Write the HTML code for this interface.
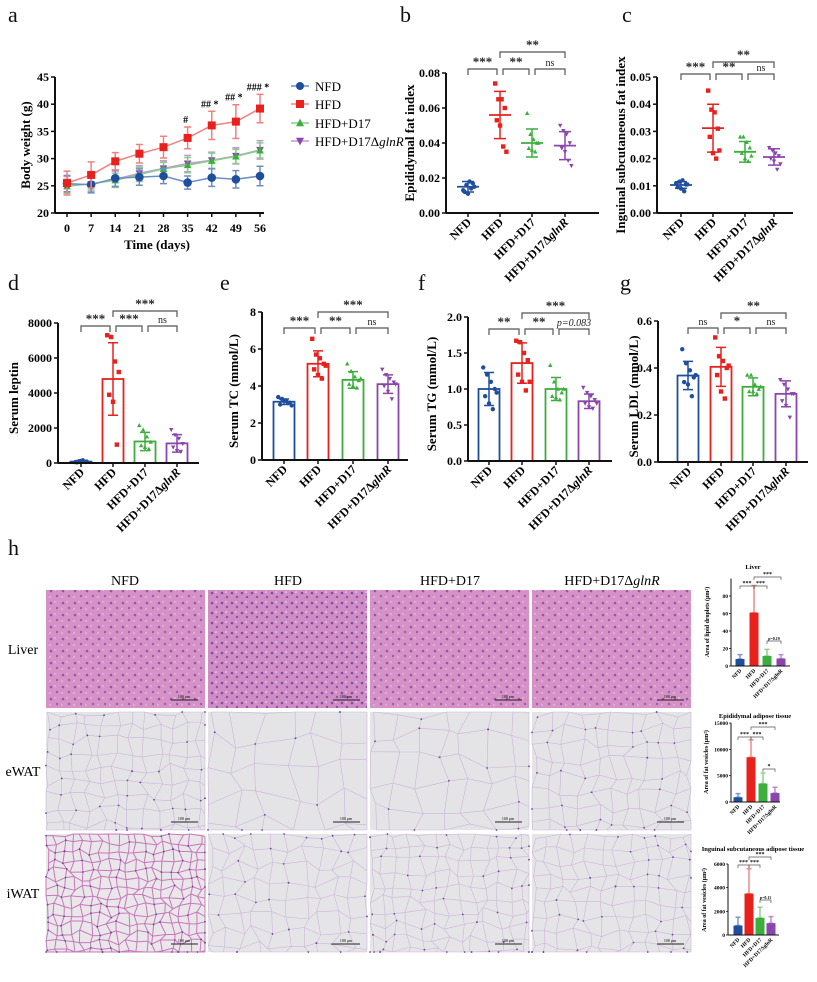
<!DOCTYPE html>
<html><head><meta charset="utf-8"><style>
html,body{margin:0;padding:0;background:#fff}
svg{display:block;font-family:"Liberation Serif",serif}
</style></head><body>
<svg id="fig" width="817" height="982" viewBox="0 0 817 982" xmlns="http://www.w3.org/2000/svg">
<defs>
<pattern id="liverPat" width="12" height="12" patternUnits="userSpaceOnUse">
<rect width="12" height="12" fill="#d692c6"/>
<circle cx="3" cy="3" r="1.3" fill="#8d5aab"/><circle cx="9" cy="8" r="1.2" fill="#9460b0"/>
<circle cx="7" cy="2" r="0.7" fill="#f2d6ea"/><circle cx="2" cy="9" r="0.7" fill="#f0d0e6"/>
</pattern>
<pattern id="liverPat2" width="10" height="10" patternUnits="userSpaceOnUse">
<rect width="10" height="10" fill="#d08cc4"/>
<circle cx="2" cy="3" r="1.3" fill="#7f4fa5"/><circle cx="7" cy="7" r="1.2" fill="#8a56aa"/>
<circle cx="6" cy="2" r="0.8" fill="#f4e0ee"/>
</pattern>
</defs>
<g id="root"></g>
</svg>
<script>
// ===== Panel a data =====
const days = [0,7,14,21,28,35,42,49,56];
const nfdWeight = [25.4,25.2,26.4,26.6,26.8,25.6,26.5,26.2,26.8];
const nfdWeightErr = [1.5,1.5,1.5,1.5,1.4,1.2,1.6,1.6,1.8];
const hfdWeight = [25.5,27.0,29.5,30.9,32.1,33.8,36.1,36.8,39.2];
const hfdWeightErr = [2.2,2.4,1.6,1.7,2.0,2.0,2.6,3.1,2.6];
const d17Weight = [24.9,25.4,26.0,27.1,28.1,28.8,29.6,30.4,31.5];
const d17WeightErr = [1.3,1.2,1.3,1.3,1.2,1.4,1.4,1.3,1.4];
const dglnWeight = [25.2,25.3,26.2,27.3,28.2,29.1,29.7,30.5,31.6];
const dglnWeightErr = [1.5,1.4,1.5,1.4,1.4,1.5,1.5,1.5,1.7];
const weightTicks = [20,25,30,35,40,45];
const weightMarks = ["","","","","","#","## *","## *","### *"];
const groups = ["NFD","HFD","HFD+D17","HFD+D17\u0394glnR"];
// ===== Panel b =====
const epiMean = [0.015,0.056,0.040,0.0385];
const epiSd = [0.003,0.0135,0.008,0.008];
const epiPts = [[0.013,0.016,0.018,0.017,0.012,0.011,0.014,0.015],[0.074,0.065,0.065,0.060,0.053,0.050,0.038,0.035],[0.057,0.045,0.042,0.040,0.037,0.036,0.035,0.040],[0.050,0.047,0.045,0.040,0.037,0.035,0.030,0.027]];
const epiTicks = [0,0.02,0.04,0.06,0.08];
// ===== Panel c =====
const ingMean = [0.0103,0.0312,0.0225,0.0206];
const ingSd = [0.0012,0.0088,0.0038,0.003];
const ingPts = [[0.011,0.0115,0.012,0.0105,0.0095,0.009,0.008,0.0105],[0.045,0.038,0.037,0.031,0.028,0.022,0.020,0.023],[0.028,0.028,0.026,0.024,0.022,0.020,0.019,0.021],[0.024,0.023,0.022,0.021,0.020,0.019,0.016,0.018]];
const ingTicks = [0,0.01,0.02,0.03,0.04,0.05];
// ===== Panel d =====
const leptinMean = [80,4800,1230,1120];
const leptinSd = [60,2070,520,500];
const leptinPts = [[50,100,150,80,40,120,60],[7300,7200,5800,5200,3900,3500,1050],[2150,1900,1500,1200,1000,900,800],[1900,1600,1400,1100,900,700,650]];
const leptinTicks = [0,2000,4000,6000,8000];
// ===== Panel e =====
const tcMean = [3.15,5.2,4.33,4.1];
const tcSd = [0.15,0.7,0.45,0.5];
const tcPts = [[3.4,3.3,3.2,3.1,3.0,3.2,3.1,2.95],[6.55,5.7,5.5,5.2,4.9,4.6,4.4,5.1],[5.2,4.8,4.5,4.3,4.1,4.0,3.9,4.4],[4.9,4.6,4.4,4.2,4.0,3.7,3.3,4.1]];
const tcTicks = [0,2,4,6,8];
// ===== Panel f =====
const tgMean = [1.0,1.36,1.0,0.83];
const tgSd = [0.23,0.28,0.16,0.1];
const tgPts = [[1.3,1.2,1.1,1.0,0.9,0.8,0.72,0.95],[1.67,1.65,1.5,1.4,1.2,1.1,0.98,1.1],[1.33,1.1,1.0,0.95,0.9,0.88,0.85,1.0],[1.02,0.95,0.9,0.85,0.8,0.75,0.73,0.8]];
const tgTicks = [0,0.5,1.0,1.5,2.0];
// ===== Panel g =====
const ldlMean = [0.368,0.405,0.32,0.29];
const ldlSd = [0.06,0.083,0.038,0.055];
const ldlPts = [[0.48,0.42,0.39,0.36,0.34,0.33,0.28,0.37],[0.53,0.45,0.43,0.40,0.37,0.30,0.27,0.41],[0.37,0.37,0.33,0.31,0.30,0.30,0.29,0.32],[0.35,0.33,0.31,0.29,0.26,0.24,0.19,0.29]];
const ldlTicks = [0,0.2,0.4,0.6];
// ===== Panel h charts =====
const liverArea = [8,61,11.5,8.5];
const liverErr = [5,31,7.5,4.5];
const liverTicks = [0,20,40,60,80];
const ewatArea = [900,8500,3500,1700];
const ewatErr = [700,3300,2000,1100];
const ewatTicks = [0,5000,10000,15000];
const iwatArea = [800,3500,1450,1000];
const iwatErr = [700,2100,900,550];
const iwatTicks = [0,2000,4000,6000];

const COLORS = ["#1f4e9c","#e8211d","#3cae3c","#8b45ad"];
const NS = "http://www.w3.org/2000/svg";
const root = document.getElementById('root');
function mk(tag, attrs, parent, text){
  const e = document.createElementNS(NS, tag);
  for (const k in attrs) e.setAttribute(k, attrs[k]);
  if (text !== undefined) e.textContent = text;
  (parent || root).appendChild(e);
  return e;
}
function lin(d0,d1,r0,r1){ return v => r0 + (v-d0)/(d1-d0)*(r1-r0); }
function fmt(v, dec){ return v.toFixed(dec); }

function panelLetter(ch, x, y){
  const t = mk('text',{x:x,y:y,'font-size':22,fill:'#111'},root,ch);
  
  
}

function yAxis(g, ax, y, ticks, dec, fs){
  const l = mk('line',{x1:ax,x2:ax,y1:y(ticks[ticks.length-1]),y2:y(ticks[0]),stroke:'#111','stroke-width':2},g);
  
  
  ticks.forEach(t=>{
    mk('line',{x1:ax-4,x2:ax,y1:y(t),y2:y(t),stroke:'#111','stroke-width':1.5},g);
    const tx = mk('text',{x:ax-6,y:y(t)+4,'text-anchor':'end','font-size':fs||12,'font-weight':'bold'},g,fmt(t,dec));
    
    
  });
}
function xAxisCats(g, x0, x1, y0, cx, fs){
  const l = mk('line',{x1:x0,x2:x1,y1:y0,y2:y0,stroke:'#111','stroke-width':2},g);
  
  
  groups.forEach((name,i)=>{
    mk('line',{x1:cx[i],x2:cx[i],y1:y0,y2:y0+4,stroke:'#111','stroke-width':1.5},g);
    const t = mk('text',{transform:`translate(${cx[i]+4},${y0+10}) rotate(-45)`,'text-anchor':'end','font-size':fs||12,'font-weight':'bold'},g);
    
    
    if (name.indexOf('\u0394')>=0){
      mk('tspan',{},t,'HFD+D17\u0394');
      mk('tspan',{'font-style':'italic'},t,'glnR');
    } else t.textContent = name;
  });
}
function yTitle(g, x, y, txt, fs){
  const t = mk('text',{transform:`translate(${x},${y}) rotate(-90)`,'text-anchor':'middle','font-size':fs||13,'font-weight':'bold'},g,txt);
  
  
}
function bracket(g, x1, x2, y, txt, fs, col){
  const p = mk('path',{d:`M${x1} ${y+6}V${y}H${x2}V${y+6}`,stroke:'#555',fill:'none','stroke-width':1.2},g);
  
  
  const ns = txt==='ns' || txt.indexOf('p')===0;
  const t = mk('text',{x:(x1+x2)/2,y:y-3,'text-anchor':'middle','font-size':ns?(fs?fs-3:10):(fs||13),'font-weight':ns?'normal':'bold','font-style':txt.indexOf('p')===0?'italic':'normal',fill:'#222'},g,txt);
  
  
}
function marker(g, i, x, y, s){
  const c = COLORS[i];
  let m;
  if (i===0) m = mk('circle',{cx:x,cy:y,r:s,fill:c},g);
  else if (i===1) m = mk('rect',{x:x-s,y:y-s,width:2*s,height:2*s,fill:c},g);
  else if (i===2) m = mk('polygon',{points:`${x},${y-s*1.1} ${x-s},${y+s*0.8} ${x+s},${y+s*0.8}`,fill:c},g);
  else m = mk('polygon',{points:`${x},${y+s*1.1} ${x-s},${y-s*0.8} ${x+s},${y-s*0.8}`,fill:c},g);
  return m;
}
function errBar(g, x, yTop, yBot, w, col){
  const e = mk('path',{d:`M${x} ${yTop}V${yBot}M${x-w} ${yTop}H${x+w}M${x-w} ${yBot}H${x+w}`,stroke:col,'stroke-width':1.5,fill:'none'},g);
  
  
}
function jitter(n, i){ return ((i % 4) - 1.5) * 3.2 + (i>=4?1.6:0); }

// ===== Panel a =====
(function(){
  const g = mk('g',{});  
  const x = lin(0,56,67,260), y = lin(20,45,213,77);
  yAxis(g,55,y,weightTicks,0,12);
  const xl = mk('line',{x1:55,x2:264,y1:213,y2:213,stroke:'#111','stroke-width':2},g);
   
  days.forEach(d=>{
    mk('line',{x1:x(d),x2:x(d),y1:213,y2:217,stroke:'#111','stroke-width':1.5},g);
    const t = mk('text',{x:x(d),y:232,'text-anchor':'middle','font-size':12,'font-weight':'bold'},g,d);
     
  });
  const xt = mk('text',{x:157,y:249,'text-anchor':'middle','font-size':13,'font-weight':'bold'},g,'Time (days)');
   
  yTitle(g,30,145,'Body weight (g)',13);
  const series = [[nfdWeight,nfdWeightErr],[hfdWeight,hfdWeightErr],[d17Weight,d17WeightErr],[dglnWeight,dglnWeightErr]];
  const light = ["#6f8cc4","#f28080","#86cf86","#c39ad6"];
  [3,2,0,1].forEach(si=>{
    const [vals,err] = series[si];
    vals.forEach((v,k)=>errBar(g,x(days[k]),y(v+err[k]),y(v-err[k]),3.5,light[si]));
    const pl = mk('polyline',{points:vals.map((v,k)=>x(days[k])+','+y(v)).join(' '),fill:'none',stroke:light[si],'stroke-width':1.5},g);
     
    vals.forEach((v,k)=>{
      const m = marker(g,si,x(days[k]),y(v),si===0?4.3:(si===1?4:3.8));
       
    });
  });
  weightMarks.forEach((s,k)=>{
    if(!s) return;
    const t = mk('text',{x:x(days[k])-2,y:y(hfdWeight[k]+hfdWeightErr[k])-4,'text-anchor':'middle','font-size':10,'font-weight':'bold'},g,s);
     
  });
  const ly=[86,104,123,141];
  groups.forEach((nm,i)=>{
    const lg = mk('g',{},g);  
    mk('line',{x1:291,x2:309,y1:ly[i],y2:ly[i],stroke:light[i],'stroke-width':1.5},lg);
    marker(lg,i,300,ly[i],4);
    const t = mk('text',{x:315,y:ly[i]+5,'font-size':13},lg);
    if(i===3){ mk('tspan',{},t,'HFD+D17\u0394'); mk('tspan',{'font-style':'italic'},t,'glnR'); } else t.textContent=nm;
  });
})();

// ===== Dot plots b,c =====
function dotPlot(name, ax, axEnd, yTopV, yTopPx, y0px, cx, ticks, dec, mean, sd, pts, title, tx, br){
  const g = mk('g',{});  
  const y = lin(0,yTopV,y0px,yTopPx);
  yAxis(g,ax,y,ticks,dec,12);
  xAxisCats(g,ax,axEnd,y0px,cx,12);
  yTitle(g,tx,(yTopPx+y0px)/2,title,13);
  groups.forEach((_,i)=>{
    pts[i].forEach((v,k)=>{
      const m = marker(g,i,cx[i]+jitter(8,k),y(v),2.2);
       
    });
    const ml = mk('line',{x1:cx[i]-11,x2:cx[i]+11,y1:y(mean[i]),y2:y(mean[i]),stroke:COLORS[i],'stroke-width':1.8},g);
     
    errBar(g,cx[i],y(mean[i]+sd[i]),y(mean[i]-sd[i]),6,COLORS[i]);
  });
  br.forEach(b=>bracket(g,cx[b[0]]+(b[3]||0),cx[b[1]]+(b[4]||0),b[2],b[5]));
}
dotPlot('panel-b-epididymal-fat-chart',446,599,0.08,73,213,[468,500,532,565],epiTicks,2,epiMean,epiSd,epiPts,'Epididymal fat index',414,
  [[0,1,69,0,-3,'***'],[1,2,69,3,-3,'**'],[2,3,69,3,0,'ns'],[1,3,52,0,0,'**']]);
dotPlot('panel-c-inguinal-fat-chart',657,793,0.05,77,213,[681,713,745,774],ingTicks,2,ingMean,ingSd,ingPts,'Inguinal subcutaneous fat index',625,
  [[0,1,74,0,-3,'***'],[1,2,74,3,-3,'**'],[2,3,74,3,0,'ns'],[1,3,62,0,0,'**']]);

// ===== Bar plots d-g =====
function barPlot(name, ax, axEnd, yTopV, yTopPx, y0px, cx, ticks, dec, mean, sd, pts, title, tx, br){
  const g = mk('g',{});  
  const y = lin(0,yTopV,y0px,yTopPx);
  groups.forEach((_,i)=>{
    const r = mk('rect',{x:cx[i]-10.5,y:y(mean[i]),width:21,height:y0px-y(mean[i]),fill:'none',stroke:COLORS[i],'stroke-width':1.8},g);
     
    errBar(g,cx[i],y(mean[i]+sd[i]),y(mean[i]-sd[i]),5,COLORS[i]);
    pts[i].forEach((v,k)=>{
      const m = marker(g,i,cx[i]+jitter(8,k)*1.2,y(v),2.2);
       
    });
  });
  yAxis(g,ax,y,ticks,dec,12);
  xAxisCats(g,ax,axEnd,y0px,cx,12);
  yTitle(g,tx,(yTopPx+y0px)/2+5,title,13);
  br.forEach(b=>bracket(g,cx[b[0]]+(b[3]||0),cx[b[1]]+(b[4]||0),b[2],b[5]));
}
barPlot('panel-d-serum-leptin-chart',58,199,8000,323,463,[81,113,145,177],leptinTicks,0,leptinMean,leptinSd,leptinPts,'Serum leptin',18,
  [[0,1,326,0,-3,'***'],[1,2,326,3,-3,'***'],[2,3,326,3,0,'ns'],[1,3,311,0,0,'***']]);
barPlot('panel-e-serum-tc-chart',262,408,8,312,460,[284,318,353,388],tcTicks,0,tcMean,tcSd,tcPts,'Serum TC (mmol/L)',238,
  [[0,1,328,0,-3,'***'],[1,2,328,3,-3,'**'],[2,3,328,3,0,'ns'],[1,3,312,0,0,'***']]);
barPlot('panel-f-serum-tg-chart',468,612,2.0,317,461,[489,522,556,589],tgTicks,1,tgMean,tgSd,tgPts,'Serum TG (mmol/L)',436,
  [[0,1,329,0,-3,'**'],[1,2,329,3,-3,'**'],[2,3,329,3,0,'p=0.083'],[1,3,313,0,0,'***']]);
barPlot('panel-g-serum-ldl-chart',658,808,0.6,321,462,[688,721,753,786],ldlTicks,1,ldlMean,ldlSd,ldlPts,'Serum LDL (mmol/L)',638,
  [[0,1,328,0,-3,'ns'],[1,2,328,3,-3,'*'],[2,3,328,3,0,'ns'],[1,3,313,0,0,'**']]);

panelLetter('a',8,22); panelLetter('b',400,22); panelLetter('c',622,22);
panelLetter('d',8,290); panelLetter('e',220,290); panelLetter('f',418,290); panelLetter('g',620,290);
panelLetter('h',8,555);

// ===== Histology grid (decorative textures) =====
let seed = 12345;
function rnd(){ seed = (seed*1103515245 + 12345) % 2147483648; return seed/2147483648; }
function adiposeTile(g, x0, y0, w, h, cell, stroke, sw, bg){
  mk('rect',{x:x0,y:y0,width:w,height:h,fill:bg},g);
  const nx = Math.ceil(w/cell)+1, ny = Math.ceil(h/cell)+1;
  const P = [];
  for (let j=0;j<ny;j++){ P.push([]); for (let i=0;i<nx;i++){
    P[j].push([x0+Math.min(w,Math.max(0,i*cell+(rnd()-0.5)*cell*0.7)), y0+Math.min(h,Math.max(0,j*cell+(rnd()-0.5)*cell*0.7))]);
  }}
  let d='';
  for (let j=0;j<ny;j++) for (let i=0;i<nx;i++){
    const p=P[j][i];
    if(i+1<nx){ const q=P[j][i+1]; d+=`M${p[0].toFixed(1)} ${p[1].toFixed(1)}L${q[0].toFixed(1)} ${q[1].toFixed(1)}`; }
    if(j+1<ny){ const q=P[j+1][i]; d+=`M${p[0].toFixed(1)} ${p[1].toFixed(1)}L${q[0].toFixed(1)} ${q[1].toFixed(1)}`; }
  }
  mk('path',{d:d,stroke:stroke,'stroke-width':sw,fill:'none'},g);
  for (let k=0;k<Math.round(w*h/(cell*cell*2));k++){
    const r = P[Math.floor(rnd()*ny)][Math.floor(rnd()*nx)];
    mk('circle',{cx:r[0],cy:r[1],r:0.9,fill:'#6c4a9c'},g);
  }
}
(function(){
  const g = mk('g',{});  
  const colX=[46,208,370,532], rowY=[590,712,834], w=159, h=118;
  const heads=[125,288,450,612];
  groups.forEach((nm,i)=>{
    const t = mk('text',{x:heads[i],y:585,'text-anchor':'middle','font-size':14},g);
     
    if(i===3){ mk('tspan',{},t,'HFD+D17\u0394'); mk('tspan',{'font-style':'italic'},t,'glnR'); } else t.textContent=nm;
  });
  ['Liver','eWAT','iWAT'].forEach((r,j)=>{
    const t = mk('text',{x:23,y:rowY[j]+64,'text-anchor':'middle','font-size':14},g,r);
     
  });
  const liverFill=['url(#liverPat)','url(#liverPat2)','url(#liverPat)','url(#liverPat)'];
  const ewatCell=[14,28,24,16], iwatCell=[9,16,13,14];
  for(let j=0;j<3;j++) for(let i=0;i<4;i++){
    const tg = mk('g',{},g);
    
    
    if(j===0) mk('rect',{x:colX[i],y:rowY[j],width:w,height:h,fill:liverFill[i]},tg);
    else if(j===1) adiposeTile(tg,colX[i],rowY[j],w,h,ewatCell[i],'#cbb3d8',0.6,'#e4e4e6');
    else if(i===0) adiposeTile(tg,colX[i],rowY[j],w,h,iwatCell[i],'#c878bb',1,'#e9e7ea');
    else adiposeTile(tg,colX[i],rowY[j],w,h,iwatCell[i],'#cdb5d9',0.6,'#e5e5e7');
    const sb = mk('line',{x1:colX[i]+125,x2:colX[i]+152,y1:rowY[j]+110,y2:rowY[j]+110,stroke:'#222','stroke-width':1},g);
     
    mk('text',{x:colX[i]+138,y:rowY[j]+108,'text-anchor':'middle','font-size':4},g,'100 μm');
  }
})();

// ===== Mini bar charts =====
const PAT_FILL = ["#1f4e9c","#e8211d","#3cae3c","#8b45ad"];
function miniChart(name, ax, axEnd, yTopV, yTopPx, y0px, cx, ticks, vals, err, title, titleX, titleY, br){
  const g = mk('g',{});  
  const y = lin(0,yTopV,y0px,yTopPx);
  const tt = mk('text',{x:titleX,y:titleY,'text-anchor':'middle','font-size':6.5,'font-weight':'bold'},g,title);
   
  groups.forEach((_,i)=>{
    const light=["#7d97c8","#f08a8a","#8fd08f","#b98fd0"];
    errBar(g,cx[i],y(vals[i]+err[i]),y(vals[i]),2.5,light[i]);
    const r = mk('rect',{x:cx[i]-4.5,y:y(vals[i]),width:9,height:y0px-y(vals[i]),fill:PAT_FILL[i]},g);
     
  });
  mk('line',{x1:ax,x2:ax,y1:yTopPx,y2:y0px,stroke:'#111','stroke-width':1},g);
  mk('line',{x1:ax,x2:axEnd,y1:y0px,y2:y0px,stroke:'#111','stroke-width':1},g);
  ticks.forEach(t=>{
    mk('line',{x1:ax-2,x2:ax,y1:y(t),y2:y(t),stroke:'#111','stroke-width':0.8},g);
    const tx = mk('text',{x:ax-3,y:y(t)+2,'text-anchor':'end','font-size':5.5,'font-weight':'bold'},g,t);
     
  });
  groups.forEach((nm,i)=>{
    const t = mk('text',{transform:`translate(${cx[i]+2},${y0px+5}) rotate(-45)`,'text-anchor':'end','font-size':5.5,'font-weight':'bold'},g,nm);
     
  });
  br.forEach(b=>{
    const p = mk('path',{d:`M${cx[b[0]]} ${b[2]+3}V${b[2]}H${cx[b[1]]}V${b[2]+3}`,stroke:'#555',fill:'none','stroke-width':0.7},g);
     
    mk('text',{x:(cx[b[0]]+cx[b[1]])/2,y:b[2]-1,'text-anchor':'middle','font-size':b[3].indexOf('p')===0?4:6,'font-weight':'bold'},g,b[3]);
  });
}
miniChart('liver-droplet-area-chart',731,790,100,578.5,666,[740,754,767,781],liverTicks,liverArea,liverErr,'Liver',753,569,
  [[0,1,586,'***'],[1,2,586,'***'],[1,3,577,'***'],[2,3,641,'p=0.19']]);
miniChart('ewat-vesicle-area-chart',731,780,15000,723,802,[738,751,763,775],ewatTicks,ewatArea,ewatErr,'Epididymal adipose tissue',755,718,
  [[0,1,737,'***'],[1,2,737,'***'],[1,3,727,'***'],[2,3,769,'*']]);
miniChart('iwat-vesicle-area-chart',728,779,6000,864,935,[738,749,760,771],iwatTicks,iwatArea,iwatErr,'Inguinal subcutaneous adipose tissue',753,851,
  [[0,1,865,'***'],[1,2,865,'***'],[1,3,857,'***'],[2,3,900,'p=0.11']]);
[['Area of lipid droplets (\u03bcm\u00b2)',709,622],['Area of fat vesicles (\u03bcm\u00b2)',708,762],['Area of fat vesicles (\u03bcm\u00b2)',706,900]].forEach(a=>{
  const t = mk('text',{transform:`translate(${a[1]},${a[2]}) rotate(-90)`,'text-anchor':'middle','font-size':6,'font-weight':'bold'},root,a[0]);
   
});
</script>
</body></html>
